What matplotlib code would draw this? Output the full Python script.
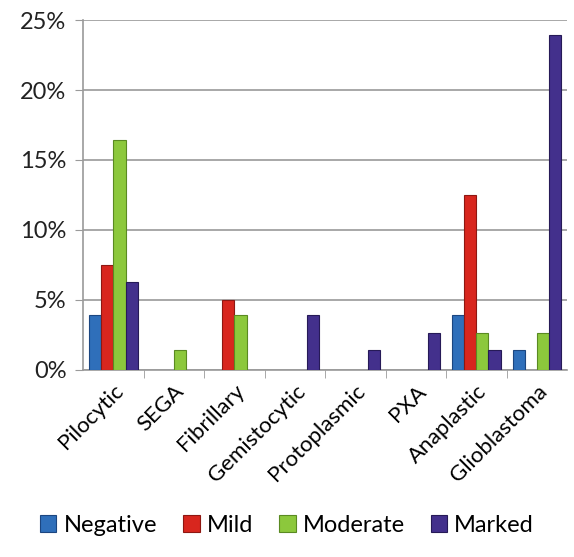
import matplotlib
matplotlib.use("Agg")
import matplotlib.pyplot as plt
import numpy as np
from matplotlib.ticker import FuncFormatter, FixedLocator

plt.rcParams["font.family"] = ["Lato", "DejaVu Sans"]

# ---------------------------------------------------------------------------
# Dados
# ---------------------------------------------------------------------------
categories = ["Pilocytic", "SEGA", "Fibrillary", "Gemistocytic",
              "Protoplasmic", "PXA", "Anaplastic", "Glioblastoma"]
negative = [3.9, 0, 0, 0, 0, 0, 3.9, 1.4]
mild = [7.5, 0, 5.0, 0, 0, 0, 12.5, 0]
moderate = [16.4, 1.4, 3.9, 0, 0, 0, 2.6, 2.6]
marked = [6.3, 0, 0, 3.9, 1.4, 2.6, 1.4, 23.9]
series_names = ["Negative", "Mild", "Moderate", "Marked"]

colors = ["#2f6fba", "#d8261e", "#8cc83c", "#43308c"]
edges = ["#1c4680", "#8e1712", "#5a8a22", "#261a57"]

# ---------------------------------------------------------------------------
# Plot
# ---------------------------------------------------------------------------
fig = plt.figure(figsize=(5.74, 5.57), dpi=100)
ax = fig.add_axes([0.145, 0.336, 0.843, 0.628])

x = np.arange(len(categories))
w = 0.2
for i, (vals, name) in enumerate(zip([negative, mild, moderate, marked], series_names)):
    pos = x + (i - 1.5) * w
    v = np.array(vals)
    keep = v > 0
    ax.bar(pos[keep], v[keep], width=w, color=colors[i], edgecolor=edges[i],
           linewidth=0.8, label=name, zorder=3)

ax.set_xlim(-0.5, len(categories) - 0.5)
ax.set_ylim(0, 25)
ax.set_yticks(np.arange(0, 26, 5))
ax.yaxis.set_major_formatter(FuncFormatter(lambda v, _: f"{v:.0f}%"))
ax.yaxis.grid(True, color="#9a9a9a", linewidth=1.2, zorder=0)
ax.tick_params(axis="y", labelsize=17, length=6, pad=6, color="#9a9a9a",
               labelcolor="#222222")

ax.set_xticks(x)
ax.set_xticklabels(categories, rotation=45, ha="right", va="top",
                   rotation_mode="anchor", fontsize=16)
ax.tick_params(axis="x", which="major", length=0, pad=8)
ax.xaxis.set_minor_locator(FixedLocator(np.arange(0.5, len(categories) - 0.5, 1)))
ax.tick_params(axis="x", which="minor", length=6, color="#9a9a9a")

for s in ["top", "right"]:
    ax.spines[s].set_visible(False)
for s in ["left", "bottom"]:
    ax.spines[s].set_color("#9a9a9a")
    ax.spines[s].set_linewidth(1.2)

fig.legend(loc="lower center", bbox_to_anchor=(0.5, 0.0), ncol=4, frameon=False,
           fontsize=17, handlelength=0.7, handleheight=0.7, handletextpad=0.3,
           columnspacing=1.1)

fig.savefig("out.png", dpi=100)
